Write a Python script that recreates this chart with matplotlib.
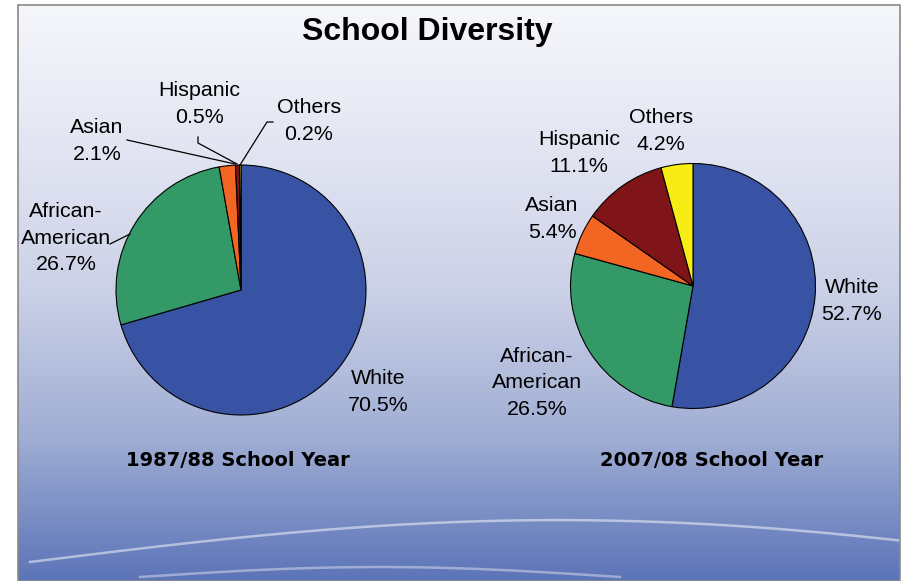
import numpy as np
import matplotlib
matplotlib.use("Agg")
import matplotlib.pyplot as plt
from matplotlib.patches import Rectangle

# data
groups = ["White", "African-\nAmerican", "Asian", "Hispanic", "Others"]
share_1987 = [70.5, 26.7, 2.1, 0.5, 0.2]
share_2007 = [52.7, 26.5, 5.4, 11.1, 4.2]
colors = ["#3953A4", "#339966", "#F26522", "#7F1518", "#F7EC13"]
title = "School Diversity"
sub_1987 = "1987/88 School Year"
sub_2007 = "2007/08 School Year"

W, H = 907, 581
fig = plt.figure(figsize=(W / 100, H / 100), dpi=100)
ax = fig.add_axes([0, 0, 1, 1])

# background panel: vertical gradient
stops_y = [0, 0.3, 0.5, 0.75, 1.0]
stops_c = np.array([[246, 247, 251], [222, 225, 240], [202, 208, 230],
                    [160, 174, 212], [92, 116, 184]]) / 255.0
yy = np.linspace(0, 1, 300)
grad = np.stack([np.interp(yy, stops_y, stops_c[:, k]) for k in range(3)], axis=-1)
grad = np.repeat(grad[:, None, :], 2, axis=1)
ax.imshow(grad, extent=[18, 900, 0, H - 5], origin="upper", aspect="auto", zorder=0)

# faint swooshes
t = np.linspace(0, 1, 200)
x1 = 30 + 870 * t
y1 = 562 - 45 * np.sin(np.pi * t * 0.8) + 5 * t
ax.plot(x1, H - y1, color="white", lw=1.8, alpha=0.5, zorder=1)
x2 = 140 + 480 * t
y2 = 577 - 10 * np.sin(np.pi * t)
ax.plot(x2, H - y2, color="white", lw=1.8, alpha=0.4, zorder=1)

ax.add_patch(Rectangle((18, 0), 882, H - 5, fill=False, ec="#8a8a8a", lw=1.2, zorder=2))

# pies
ax.pie(share_1987, colors=colors, startangle=90, counterclock=False,
       center=(241, H - 290), radius=125,
       wedgeprops=dict(edgecolor="black", linewidth=0.8, zorder=3))
ax.pie(share_2007, colors=colors, startangle=90, counterclock=False,
       center=(693, H - 286), radius=122.5,
       wedgeprops=dict(edgecolor="black", linewidth=0.8, zorder=3))

ax.set_xlim(0, W)
ax.set_ylim(0, H)
ax.set_axis_off()

lbl = dict(fontsize=15.4, family="Liberation Sans", ha="center", va="center",
           linespacing=1.47, color="black", zorder=5)

# left labels
left_pos = [(378, 392), (66, 238), (97, 141), (199, 104), (309, 121)]
for g, v, (x, y) in zip(groups, share_1987, left_pos):
    ax.text(x, H - y, f"{g}\n{v}%", **lbl)

# right labels
right_pos = [(852, 301), (537, 383), (552, 219), (579, 153), (661, 131)]
for g, v, (x, y) in zip(groups, share_2007, right_pos):
    ax.text(x, H - y, f"{g}\n{v}%", **lbl)

# leader lines for the left pie
leaders = [
    [(110, 244), (130, 234)],
    [(127, 140), (235, 164)],
    [(198, 137), (198, 143), (237, 164)],
    [(273, 122), (267, 122), (240, 165)],
]
for pts in leaders:
    xs = [p[0] for p in pts]
    ys = [H - p[1] for p in pts]
    ax.plot(xs, ys, color="black", lw=0.9, zorder=4)

ax.text(427, H - 32, title, fontsize=23, fontweight="bold", family="Liberation Sans",
        ha="center", va="center", zorder=5)
ax.text(238, H - 461, sub_1987, fontsize=14, fontweight="bold", family="DejaVu Sans",
        ha="center", va="center", zorder=5)
ax.text(712, H - 461, sub_2007, fontsize=14, fontweight="bold", family="DejaVu Sans",
        ha="center", va="center", zorder=5)

fig.savefig("out.png", dpi=100, facecolor="white")
